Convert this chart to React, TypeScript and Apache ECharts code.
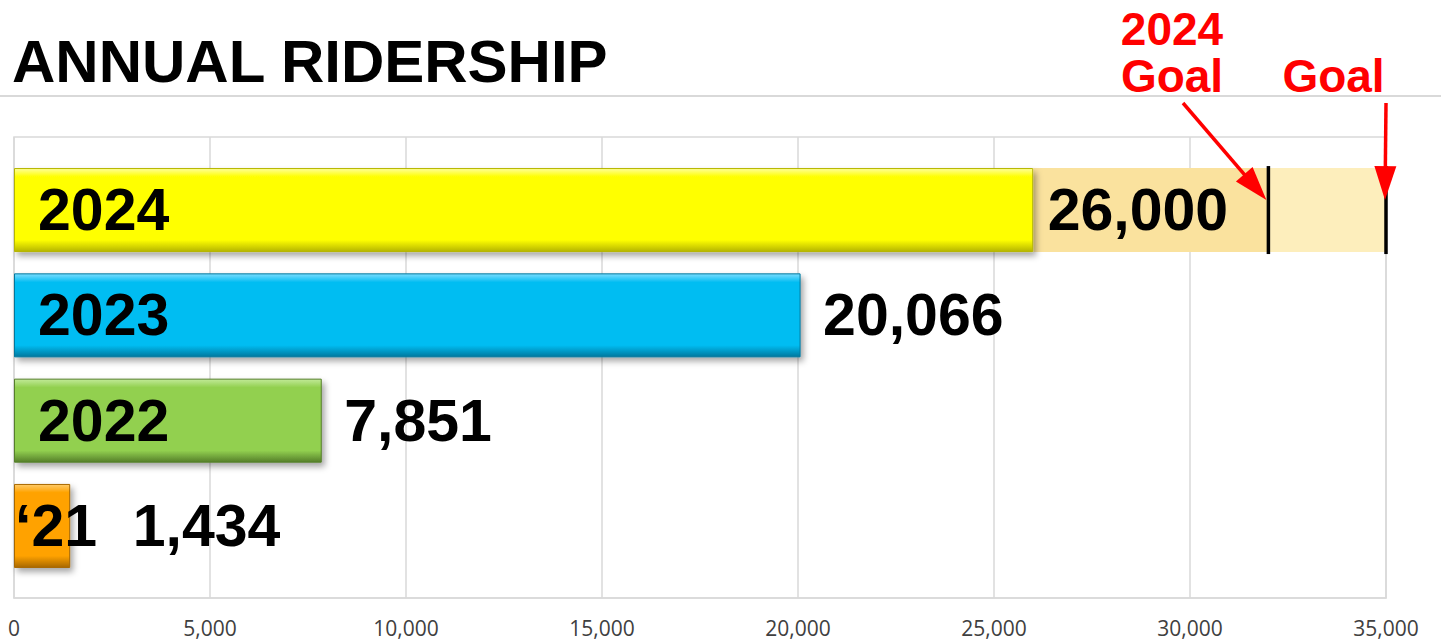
import React, { useEffect, useRef } from 'react';
import * as echarts from 'echarts';

// ---- data ----
const categories = ['2024', '2023', '2022', '\u201821'];
const ridership = [26000, 20066, 7851, 1434];
const goal2024 = 32000;
const goalLong = 35000;
const axisMax = 35000;
const axisStep = 5000;
const titleText = 'ANNUAL RIDERSHIP';

// ---- styles ----
const barColors = [
  { main: '#FFFF00', light: '#FFFF9A', dark: '#B5B500' },
  { main: '#05BDF2', light: '#7ADDFF', dark: '#00789E' },
  { main: '#92D050', light: '#C2EA98', dark: '#557F2A' },
  { main: '#FFA200', light: '#FFCB6A', dark: '#A86800' },
];
const valueGap = [14, 22, 22, 62];
const nameGap = [24, 24, 24, 1];
const BIG_FONT = '"Liberation Sans", Arial, sans-serif';

const fmt = (v: number) => v.toLocaleString('en-US');

function barStyle(i: number) {
  const c = barColors[i];
  return {
    color: new echarts.graphic.LinearGradient(0, 0, 0, 1, [
      { offset: 0, color: c.light },
      { offset: 0.1, color: c.main },
      { offset: 0.86, color: c.main },
      { offset: 1, color: c.dark },
    ]),
    borderColor: c.dark,
    borderWidth: 1,
    shadowColor: 'rgba(0,0,0,0.35)',
    shadowBlur: 6,
    shadowOffsetX: 3,
    shadowOffsetY: 4,
  };
}

function arrow(sx: number, sy: number, tx: number, ty: number) {
  const dx = tx - sx;
  const dy = ty - sy;
  const len = Math.sqrt(dx * dx + dy * dy);
  const ux = dx / len;
  const uy = dy / len;
  const headLen = 34;
  const hw = 11;
  const bx = tx - ux * headLen;
  const by = ty - uy * headLen;
  const nx = -uy;
  const ny = ux;
  return [
    {
      type: 'line',
      shape: { x1: sx, y1: sy, x2: bx + ux * 2, y2: by + uy * 2 },
      style: { stroke: '#FF0000', lineWidth: 3.5 },
      z: 100,
    },
    {
      type: 'polygon',
      shape: {
        points: [
          [tx, ty],
          [bx + nx * hw, by + ny * hw],
          [bx - nx * hw, by - ny * hw],
        ],
      },
      style: { fill: '#FF0000' },
      z: 100,
    },
  ];
}

export default function App() {
  const ref = useRef<HTMLDivElement>(null);

  useEffect(() => {
    const chart = echarts.init(ref.current!, null, { renderer: 'svg' });

    const option: any = {
      animation: false,
      backgroundColor: '#FFFFFF',
      grid: [
        {
          left: 14,
          right: 55,
          top: 137,
          bottom: 44,
          show: true,
          borderColor: '#D9D9D9',
          borderWidth: 1.5,
          backgroundColor: 'transparent',
          outerBoundsMode: 'none',
        },
        { left: 14, right: 55, top: 157.4, bottom: 63.4, outerBoundsMode: 'none' },
      ],
      xAxis: [
        {
          type: 'value',
          gridIndex: 0,
          min: 0,
          max: axisMax,
          interval: axisStep,
          axisLine: { show: true, lineStyle: { color: '#D9D9D9', width: 1.5 } },
          axisTick: { show: false },
          splitLine: { show: true, lineStyle: { color: '#D9D9D9', width: 1.5 } },
          axisLabel: {
            margin: 19,
            color: '#404040',
            fontFamily: '"Open Sans", sans-serif',
            fontSize: 21,
            formatter: (v: number) => fmt(v),
          },
        },
        { type: 'value', gridIndex: 1, min: 0, max: axisMax, show: false },
      ],
      yAxis: [
        { type: 'category', gridIndex: 0, data: ['x'], show: false },
        { type: 'category', gridIndex: 1, data: categories, inverse: true, show: false },
      ],
      series: [
        {
          type: 'bar',
          xAxisIndex: 1,
          yAxisIndex: 1,
          stack: 'r',
          barWidth: 84,
          z: 3,
          data: ridership.map((v, i) => ({
            value: v,
            itemStyle: barStyle(i),
            label: { distance: nameGap[i] },
          })),
          label: {
            show: true,
            position: 'insideLeft',
            formatter: (p: any) => categories[p.dataIndex],
            fontFamily: BIG_FONT,
            fontWeight: 'bold',
            fontSize: 59,
            color: '#000000',
          },
        },
        {
          type: 'bar',
          xAxisIndex: 1,
          yAxisIndex: 1,
          stack: 'r',
          barWidth: 84,
          z: 2,
          itemStyle: { color: '#FAE29E' },
          data: ridership.map((v, i) => (i === 0 ? goal2024 - v : '-')),
        },
        {
          type: 'bar',
          xAxisIndex: 1,
          yAxisIndex: 1,
          stack: 'r',
          barWidth: 84,
          z: 2,
          itemStyle: { color: '#FDEEBC' },
          data: ridership.map((v, i) => (i === 0 ? goalLong - goal2024 : '-')),
        },
        {
          type: 'scatter',
          xAxisIndex: 1,
          yAxisIndex: 1,
          symbol: 'rect',
          symbolSize: [3.5, 88],
          itemStyle: { color: '#000000', opacity: 1 },
          z: 6,
          data: [
            [goal2024, 0],
            [goalLong, 0],
          ],
        },
        {
          type: 'scatter',
          xAxisIndex: 1,
          yAxisIndex: 1,
          symbolSize: 1,
          itemStyle: { color: 'rgba(0,0,0,0)', opacity: 1 },
          z: 7,
          data: ridership.map((v, i) => ({
            value: [v, i],
            label: { distance: valueGap[i] },
          })),
          label: {
            show: true,
            position: 'right',
            formatter: (p: any) => fmt(p.value[0]),
            fontFamily: BIG_FONT,
            fontWeight: 'bold',
            fontSize: 59,
            color: '#000000',
            opacity: 1,
          },
        },
      ],
    };

    chart.setOption(option);

    const p32 = chart.convertToPixel({ gridIndex: 1 } as any, [goal2024, 0]) as number[];
    const p35 = chart.convertToPixel({ gridIndex: 1 } as any, [goalLong, 0]) as number[];

    const redFont = `bold 46px ${BIG_FONT}`;
    const graphic: any[] = [
      {
        type: 'text',
        x: 12,
        y: 61.5,
        style: {
          text: titleText,
          font: `bold 60px ${BIG_FONT}`,
          fill: '#000000',
          align: 'left',
          verticalAlign: 'middle',
        },
      },
      {
        type: 'line',
        shape: { x1: 0, y1: 96, x2: 1441, y2: 96 },
        style: { stroke: '#D9D9D9', lineWidth: 2 },
      },
      {
        type: 'text',
        x: 1172,
        y: 29,
        style: { text: '2024', font: redFont, fill: '#FF0000', align: 'center', verticalAlign: 'middle' },
      },
      {
        type: 'text',
        x: 1172,
        y: 76,
        style: { text: 'Goal', font: redFont, fill: '#FF0000', align: 'center', verticalAlign: 'middle' },
      },
      {
        type: 'text',
        x: 1333.5,
        y: 76,
        style: { text: 'Goal', font: redFont, fill: '#FF0000', align: 'center', verticalAlign: 'middle' },
      },
      ...arrow(1183, 103, p32[0] - 2, p32[1] - 10),
      ...arrow(p35[0], 103, p35[0] - 1, p35[1] - 10),
    ];

    chart.setOption({ graphic });

    return () => {
      chart.dispose();
    };
  }, []);

  return (
    <div
      ref={ref}
      style={{ position: 'fixed', left: 0, top: 0, width: 1441, height: 642 }}
    />
  );
}
